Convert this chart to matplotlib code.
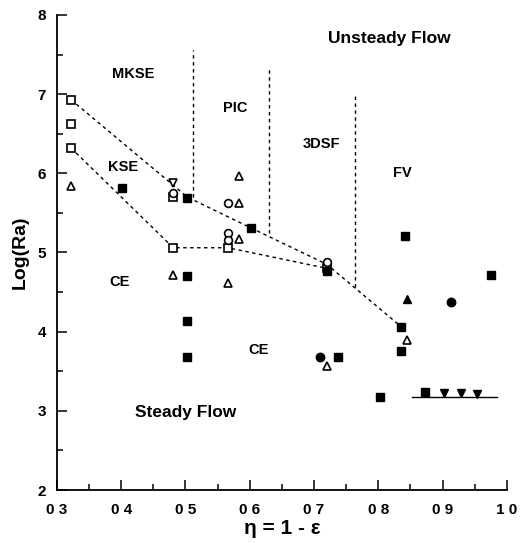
import matplotlib
matplotlib.use("Agg")
import matplotlib.pyplot as plt
from matplotlib.ticker import MultipleLocator, FixedLocator

plt.rcParams['font.family'] = ['Liberation Sans', 'DejaVu Sans']

# ---- data ----
open_sq_x = [0.322, 0.322, 0.322, 0.481, 0.481, 0.566, 0.720]
open_sq_y = [6.93, 6.62, 6.32, 5.70, 5.06, 5.06, 4.80]
open_tri_x = [0.322, 0.481, 0.583, 0.583, 0.583, 0.566, 0.845, 0.720]
open_tri_y = [5.84, 4.72, 5.97, 5.63, 5.17, 4.61, 3.90, 3.56]
open_circ_x = [0.481, 0.566, 0.566, 0.566, 0.720]
open_circ_y = [5.75, 5.63, 5.25, 5.16, 4.88]
open_dtri_x = [0.481]
open_dtri_y = [5.88]
fill_sq_x = [0.402, 0.503, 0.602, 0.502, 0.502, 0.502, 0.720, 0.738, 0.802,
             0.836, 0.836, 0.842, 0.975, 0.872]
fill_sq_y = [5.82, 5.69, 5.31, 4.70, 4.14, 3.68, 4.77, 3.68, 3.18,
             4.06, 3.76, 5.21, 4.71, 3.24]
fill_circ_x = [0.709, 0.913]
fill_circ_y = [3.68, 4.38]
fill_tri_x = [0.845]
fill_tri_y = [4.41]
fill_dtri_x = [0.902, 0.928, 0.953]
fill_dtri_y = [3.23, 3.22, 3.21]

upper_x = [0.322, 0.503, 0.602, 0.720, 0.836]
upper_y = [6.93, 5.70, 5.31, 4.85, 4.06]
lower_x = [0.322, 0.481, 0.566, 0.720]
lower_y = [6.32, 5.06, 5.06, 4.80]
vline_x = [0.512, 0.630, 0.763]
vline_top = [7.56, 7.33, 7.00]
vline_bot = [5.70, 5.25, 4.56]
solid_x = [0.852, 0.985]
solid_y = [3.17, 3.17]

xticks = [0.3, 0.4, 0.5, 0.6, 0.7, 0.8, 0.9, 1.0]
xticklabels = ["0 3", "0 4", "0 5", "0 6", "0 7", "0 8", "0 9", "1 0"]
yticks = [2, 3, 4, 5, 6, 7, 8]

labels = [("MKSE", 0.419, 7.26, 10.5), ("PIC", 0.578, 6.83, 10.5), ("KSE", 0.403, 6.08, 10.5),
          ("3DSF", 0.711, 6.37, 10.5), ("FV", 0.838, 6.00, 10.5),
          ("Unsteady Flow", 0.817, 7.70, 12.5), ("CE", 0.398, 4.63, 10.5),
          ("CE", 0.613, 3.77, 10.5), ("Steady Flow", 0.500, 2.98, 12.5)]

# ---- figure ----
fig = plt.figure(figsize=(5.22, 5.43), dpi=100)
ax = fig.add_axes([0.109, 0.0976, 0.862, 0.8748])

dash = dict(color='black', lw=1.0, linestyle=(0, (2.5, 2.5)))
ax.plot(upper_x, upper_y, **dash)
ax.plot(lower_x, lower_y, **dash)
for x, t, b in zip(vline_x, vline_top, vline_bot):
    ax.plot([x, x], [b, t], **dash)
ax.plot(solid_x, solid_y, color='black', lw=1.0)

ms = 5.6
ax.plot(open_sq_x, open_sq_y, 's', ms=ms, mfc='white', mec='black', mew=1.2, ls='none')
ax.plot(open_tri_x, open_tri_y, '^', ms=ms, mfc='white', mec='black', mew=1.2, ls='none')
ax.plot(open_circ_x, open_circ_y, 'o', ms=ms, mfc='white', mec='black', mew=1.2, ls='none')
ax.plot(open_dtri_x, open_dtri_y, 'v', ms=ms, mfc='white', mec='black', mew=1.2, ls='none')
ax.plot(fill_sq_x, fill_sq_y, 's', ms=ms, color='black', ls='none')
ax.plot(fill_circ_x, fill_circ_y, 'o', ms=ms + 0.5, color='black', ls='none')
ax.plot(fill_tri_x, fill_tri_y, '^', ms=ms, color='black', ls='none')
ax.plot(fill_dtri_x, fill_dtri_y, 'v', ms=ms, color='black', ls='none')

for txt, x, y, fs in labels:
    ax.text(x, y, txt, ha='center', va='center', fontsize=fs, fontweight='bold')

ax.set_xlim(0.3, 1.0)
ax.set_ylim(2, 8)
ax.spines['top'].set_visible(False)
ax.spines['right'].set_visible(False)
ax.spines['left'].set_linewidth(1.3)
ax.spines['bottom'].set_linewidth(1.3)
ax.xaxis.set_major_locator(FixedLocator(xticks))
ax.set_xticklabels(xticklabels, fontsize=11, fontweight='bold')
ax.xaxis.set_minor_locator(MultipleLocator(0.05))
ax.yaxis.set_major_locator(FixedLocator(yticks))
ax.set_yticklabels([str(v) for v in yticks], fontsize=11, fontweight='bold')
ax.yaxis.set_minor_locator(MultipleLocator(0.5))
ax.tick_params(which='major', direction='in', length=7, width=1.1)
ax.tick_params(which='minor', direction='in', length=4, width=1.1)
ax.tick_params(axis='x', pad=9)
ax.tick_params(axis='y', pad=8)
ax.set_xlabel("η = 1 - ε", fontsize=15, fontweight='bold', labelpad=2)
ax.set_ylabel("Log(Ra)", fontsize=14, fontweight='bold', labelpad=6)

fig.savefig("out.png", dpi=100)
